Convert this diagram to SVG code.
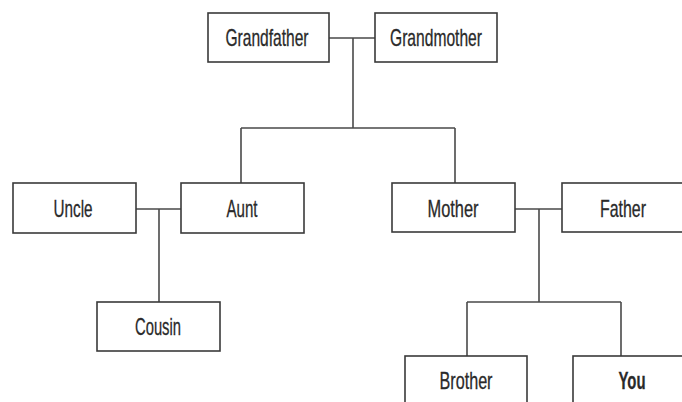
<svg xmlns="http://www.w3.org/2000/svg" width="682" height="402" viewBox="0 0 682 402">
<style>
.box{fill:#fff;stroke:#3a3a3a;stroke-width:1.6}
.lbl{font-family:"Liberation Sans",Arial,sans-serif;font-size:24px;fill:#2a2a2a;stroke:#2a2a2a;stroke-width:0.3;text-anchor:middle}
.conn{fill:none;stroke:#4a4a4a;stroke-width:1.6}
</style>
<rect width="682" height="402" fill="#fff"/>
<g id="connectors" class="conn">
<path d="M329 38H375M353 38V128M241 128H455M241 128V183M455 128V183"/>
<path d="M136 209H181M159 209V302"/>
<path d="M515 209H562M539 209V302M467 302H621M467 302V356M621 302V356"/>
</g>
<g id="grandfather"><rect class="box" x="208" y="13" width="121" height="49"/><text class="lbl" x="267" y="46" textLength="83" lengthAdjust="spacingAndGlyphs">Grandfather</text></g>
<g id="grandmother"><rect class="box" x="375" y="13" width="122" height="49"/><text class="lbl" x="436" y="46" textLength="92" lengthAdjust="spacingAndGlyphs">Grandmother</text></g>
<g id="uncle"><rect class="box" x="13" y="183" width="123" height="50"/><text class="lbl" x="73" y="217" textLength="39" lengthAdjust="spacingAndGlyphs">Uncle</text></g>
<g id="aunt"><rect class="box" x="181" y="183" width="123" height="50"/><text class="lbl" x="242" y="217" textLength="31" lengthAdjust="spacingAndGlyphs">Aunt</text></g>
<g id="mother"><rect class="box" x="392" y="183" width="123" height="49"/><text class="lbl" x="453" y="217" textLength="51" lengthAdjust="spacingAndGlyphs">Mother</text></g>
<g id="father"><rect class="box" x="562" y="183" width="123" height="49"/><text class="lbl" x="623" y="217" textLength="46" lengthAdjust="spacingAndGlyphs">Father</text></g>
<g id="cousin"><rect class="box" x="97" y="302" width="123" height="49"/><text class="lbl" x="158" y="335" textLength="46" lengthAdjust="spacingAndGlyphs">Cousin</text></g>
<g id="brother"><rect class="box" x="405" y="356" width="122" height="50"/><text class="lbl" x="466" y="389" textLength="53" lengthAdjust="spacingAndGlyphs">Brother</text></g>
<g id="you"><rect class="box" x="573" y="356" width="123" height="50"/><text class="lbl" x="632" y="389" textLength="27" lengthAdjust="spacingAndGlyphs" font-weight="bold" fill="#111">You</text></g>
</svg>
